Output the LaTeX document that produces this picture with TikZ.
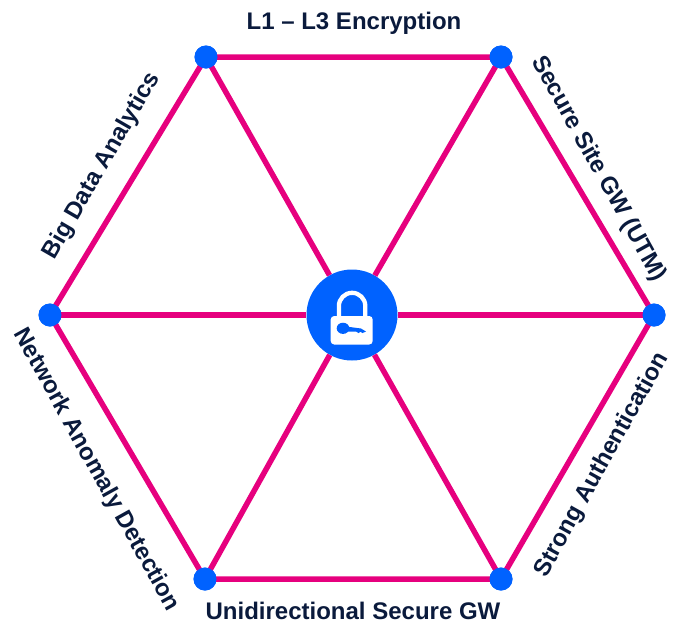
\documentclass[tikz,border=0pt]{standalone}
\usepackage{fontspec}
\usepackage{xcolor}
\setmainfont{Liberation Sans}
\definecolor{spoke}{HTML}{E6007E}
\definecolor{hub}{HTML}{0062FF}
\definecolor{caption}{HTML}{0A1A3C}
\tikzset{
	spokeline/.style={draw=spoke,line width=5.5pt},
	dot/.style={circle,fill=hub,inner sep=0pt,minimum size=23pt},
	caption/.style={text=caption,font=\bfseries\fontsize{24}{26}\selectfont,inner sep=0pt}
}
\begin{document}
\begin{tikzpicture}[x=1pt,y=-1pt]
	\useasboundingbox (0,0) rectangle (681,622);
	% 中心和六个顶点
	\node[circle,fill=hub,inner sep=0pt,minimum size=91pt] (center) at (352,315) {};
	\node[dot] (TL) at (206,57) {};
	\node[dot] (TR) at (501,57) {};
	\node[dot] (R) at (654,315) {};
	\node[dot] (BR) at (501,579) {};
	\node[dot] (BL) at (205,579) {};
	\node[dot] (L) at (50,315) {};
	% 六边形和辐条
	\draw[spokeline] (TL.center) -- (TR.center) -- (R.center) -- (BR.center) -- (BL.center) -- (L.center) -- cycle;
	\foreach \p in {TL,TR,R,BR,BL,L}
		\draw[spokeline] (\p.center) -- (center);
	% 重画顶点
	\foreach \p in {TL,TR,R,BR,BL,L}
		\fill[hub] (\p) circle (11.5);
	% 锁
	\draw[white,line width=4.3pt] (338.9,318) -- (338.9,306) arc[start angle=180,end angle=360,radius=13.2] -- (365.3,318);
	\fill[white,rounded corners=3.5pt] (330.7,316) rectangle (372.7,344.5);
	\fill[hub] (343,328.3) ellipse (6.3 and 5.6);
	\fill[hub] (346,326.5) -- (361,328.5) -- (366,331.5) -- (362.5,333) -- (360.5,331.8) -- (358.5,333) -- (356,331.5) -- (346,331.5) -- cycle;
	% 写文字
	\node[caption] (top) at (354,23) {L1 – L3 Encryption};
	\node[caption,rotate=-61] (secure) at (598.5,169) {Secure Site GW (UTM)};
	\node[caption,rotate=61] (strong) at (602,465) {Strong Authentication};
	\node[caption] (bottom) at (353,611) {Unidirectional Secure GW};
	\node[caption,rotate=-61] (network) at (96,470) {Network Anomaly Detection};
	\node[caption,rotate=60] (big) at (102,166) {Big Data Analytics};
\end{tikzpicture}
\end{document}
